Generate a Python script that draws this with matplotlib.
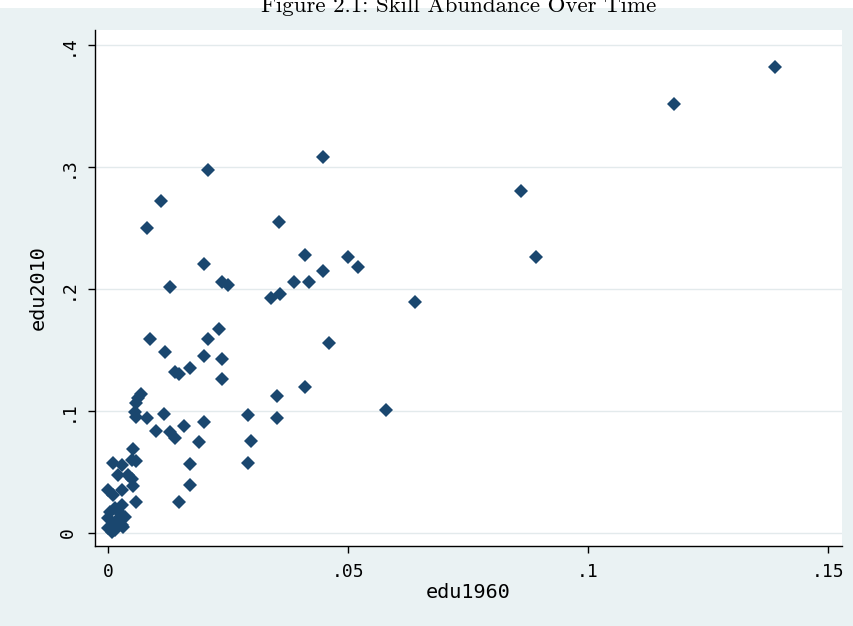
import matplotlib.pyplot as plt
from matplotlib.patches import Rectangle

# education share in 1960 vs 2010
edu1960 = [0.1390, 0.1180, 0.0448, 0.0860, 0.0208, 0.0110, 0.0081, 0.0356,
           0.0410, 0.0500, 0.0892, 0.0200, 0.0448, 0.0520, 0.0387, 0.0419,
           0.0237, 0.0250, 0.0129, 0.0340, 0.0358, 0.0640, 0.0231, 0.0088,
           0.0208, 0.0460, 0.0119, 0.0200, 0.0237, 0.0140, 0.0148, 0.0170,
           0.0237, 0.0410, 0.0580, 0.0069, 0.0062, 0.0058, 0.0056, 0.0058,
           0.0081, 0.0117, 0.0100, 0.0129, 0.0140, 0.0158, 0.0200, 0.0190,
           0.0292, 0.0298, 0.0292, 0.0352, 0.0352, 0.0171, 0.0171, 0.0148,
           0.0052, 0.0050, 0.0058, 0.0010, 0.0029, 0.0021, 0.0042, 0.0050,
           0.0052, 0.0029, 0.0000, 0.0010, 0.0058, 0.0029, 0.0015, 0.0004,
           0.0025, 0.0000, 0.0019, 0.0035, 0.0008, 0.0029, 0.0000, 0.0015,
           0.0031, 0.0008]
edu2010 = [0.382, 0.352, 0.308, 0.280, 0.2975, 0.272, 0.250, 0.255,
           0.228, 0.226, 0.226, 0.2205, 0.215, 0.218, 0.206, 0.206,
           0.206, 0.203, 0.2016, 0.193, 0.196, 0.189, 0.167, 0.159,
           0.159, 0.156, 0.148, 0.145, 0.1426, 0.132, 0.130, 0.135,
           0.126, 0.120, 0.101, 0.114, 0.111, 0.1066, 0.099, 0.095,
           0.094, 0.0975, 0.0836, 0.083, 0.078, 0.0877, 0.091, 0.0746,
           0.0967, 0.0754, 0.0574, 0.112, 0.094, 0.0566, 0.039, 0.0254,
           0.0689, 0.060, 0.059, 0.0574, 0.0557, 0.0475, 0.0475, 0.044,
           0.0385, 0.035, 0.035, 0.031, 0.0254, 0.023, 0.0205, 0.017,
           0.0164, 0.0123, 0.0107, 0.013, 0.0066, 0.0066, 0.004, 0.0025,
           0.005, 0.001]

xticks = [0, 0.05, 0.1, 0.15]
xticklabels = ['0', '.05', '.1', '.15']
yticks = [0, 0.1, 0.2, 0.3, 0.4]
yticklabels = ['0', '.1', '.2', '.3', '.4']

bg = '#eaf2f3'
navy = '#1a476f'
mono = 'DejaVu Sans Mono'

fig = plt.figure(figsize=(8.54, 6.26), dpi=100, facecolor=bg)

# white strip at the very top where the document title sits
fig.patches.append(Rectangle((0, 1 - 8 / 626), 1, 8 / 626, transform=fig.transFigure,
                             facecolor='white', edgecolor='none', zorder=0))
fig.text(0.537, 1 - 12 / 626, 'Figure 2.1: Skill Abundance Over Time',
         family='cmr10', fontsize=16.5, ha='center', va='baseline')

ax = fig.add_axes([95 / 854, 80 / 626, 747 / 854, 516 / 626])
ax.set_facecolor('white')
ax.plot(edu1960, edu2010, linestyle='none', marker='D', ms=7,
        color=navy, markeredgewidth=0, zorder=3)

ax.set_xlim(-0.0027, 0.1529)
ax.set_ylim(-0.0107, 0.4123)
ax.set_xticks(xticks)
ax.set_xticklabels(xticklabels, family=mono, fontsize=13)
ax.set_yticks(yticks)
ax.set_yticklabels(yticklabels, family=mono, fontsize=13, rotation=90, va='center')
ax.tick_params(axis='x', length=5, width=1, pad=7, colors='black')
ax.tick_params(axis='y', length=5, width=1, pad=8, colors='black')

ax.yaxis.grid(True, color='#e3eaec', linewidth=1)
ax.set_axisbelow(True)
for side in ['top', 'right']:
    ax.spines[side].set_visible(False)
for side in ['left', 'bottom']:
    ax.spines[side].set_linewidth(1)

ax.set_xlabel('edu1960', family=mono, fontsize=14.5, labelpad=2)
ax.set_ylabel('edu2010', family=mono, fontsize=14.5, labelpad=8)

fig.savefig('out.png', dpi=100, facecolor=bg)
